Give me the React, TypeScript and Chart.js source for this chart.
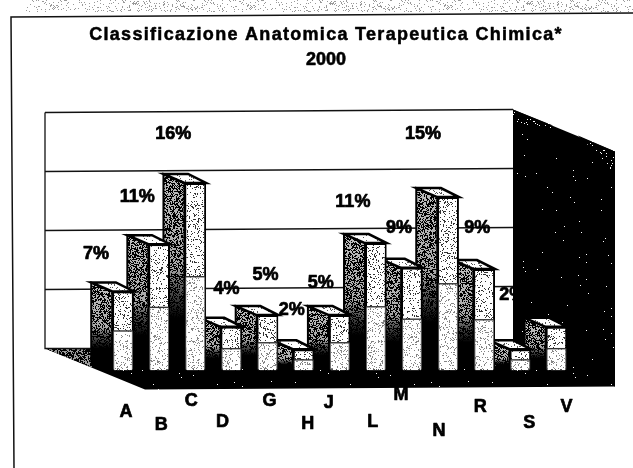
import React, { useEffect, useRef } from "react";
import { Chart, registerables } from "chart.js";

Chart.register(...registerables);

const categories = ["A", "B", "C", "D", "G", "H", "J", "L", "M", "N", "R", "S", "V"];
const shares = [6.7, 10.7, 15.9, 3.7, 4.7, 1.8, 4.7, 10.8, 8.7, 14.7, 8.6, 1.8, 3.7];
const shareLabels = ["7%", "11%", "16%", "4%", "5%", "2%", "5%", "11%", "9%", "15%", "9%", "2%", "4%"];
const titleLines = ["Classificazione Anatomica Terapeutica Chimica*", "2000"];
const gridValues = [0, 5, 10, 15, 20];

// label placement relative to the front-top centre of each bar
const labelShift = [[-27, -37], [-22, -47], [-22, -49], [-5, -38], [-2, -40], [-12, -39], [-19, -32], [-23, -41], [-13, -40], [-25, -63], [-7, -41], [-8, -54], [-8, -40]];
// category text placement relative to the bar centre and the base line
const catShift = [[3, 42], [2, 55], [-4, 31], [-9, 52], [2, 31], [4, 54], [-11, 33], [-3, 52], [-11, 25], [-9, 61], [-4, 37], [9, 53], [10, 37]];

function stipple(density: number, ink = "#000", paper = "#fff") {
  const c = document.createElement("canvas");
  c.width = c.height = 197;
  const g = c.getContext("2d")!;
  g.fillStyle = paper;
  g.fillRect(0, 0, 197, 197);
  g.fillStyle = ink;
  let s = 12345;
  for (let y = 0; y < 197; y++) {
    for (let x = 0; x < 197; x++) {
      s = (s * 1103515245 + 12345) & 0x7fffffff;
      if ((s >> 12) % 1000 < density * 10) g.fillRect(x, y, 1, 1);
    }
  }
  return g.createPattern(c, "repeat")!;
}

function poly(ctx: CanvasRenderingContext2D, pts: number[][]) {
  ctx.beginPath();
  pts.forEach((p, i) => (i ? ctx.lineTo(p[0], p[1]) : ctx.moveTo(p[0], p[1])));
  ctx.closePath();
}

function heavyText(ctx: CanvasRenderingContext2D, s: string, x: number, y: number, w: number) {
  ctx.lineWidth = w;
  ctx.lineJoin = "round";
  ctx.strokeStyle = "#000";
  ctx.strokeText(s, x, y);
  ctx.fillText(s, x, y);
}

const scene = {
  id: "scene",
  beforeDatasetsDraw(chart: any) {
    const { ctx, scales } = chart;
    const y = scales.y;
    const backDrop = -22;
    const wallL = 45, wallR = 513, deepX = 102, deepY = 40;
    const top = y.getPixelForValue(20) + backDrop;
    const floor = y.getPixelForValue(0) + backDrop;
    ctx.save();
    ctx.fillStyle = "#fff";
    ctx.fillRect(0, 0, 633, 468);

    // scan noise strip and page frame
    ctx.fillStyle = stipple(12, "#999");
    ctx.fillRect(26, 0, 607, 12);
    ctx.strokeStyle = "#111";
    ctx.lineWidth = 1.5;
    ctx.beginPath();
    ctx.moveTo(633, 13);
    ctx.lineTo(11, 17);
    ctx.lineTo(14, 468);
    ctx.stroke();

    // floor
    const blackPat = stipple(0.3, "#fff", "#000");
    poly(ctx, [[wallL, floor], [wallL + 100, floor + deepY + 1], [wallR + deepX, floor + deepY - 2], [wallR + deepX, floor], [wallR, floor - 4], [70, floor]]);
    ctx.fillStyle = blackPat;
    ctx.fill();
    poly(ctx, [[wallL, floor], [92, floor + 19], [92, floor + 1]]);
    ctx.fillStyle = stipple(60, "#000", "#999");
    ctx.fill();

    // back wall and grid
    ctx.strokeStyle = "#111";
    ctx.lineWidth = 1.3;
    ctx.beginPath();
    ctx.moveTo(wallL, top);
    ctx.lineTo(wallL, floor);
    ctx.lineTo(92, floor);
    ctx.stroke();
    gridValues.forEach((v) => {
      if (v === 0) return;
      const py = y.getPixelForValue(v) + backDrop;
      ctx.beginPath();
      ctx.moveTo(wallL, py);
      ctx.lineTo(wallR, py - 3);
      ctx.stroke();
    });

    // right wall
    poly(ctx, [[wallR, top - 3], [wallR + deepX, top + 39], [wallR + deepX, floor + deepY - 2], [wallR, floor]]);
    ctx.fillStyle = blackPat;
    ctx.fill();
    poly(ctx, [[wallR, top - 3], [wallR + 40, top + 13], [wallR + 20, top + 14], [wallR, top + 12]]);
    ctx.fillStyle = stipple(6, "#fff", "#000");
    ctx.fill();
    poly(ctx, [[wallR + 65, top + 23], [wallR + deepX, top + 39], [wallR + deepX, top + 62], [wallR + 85, top + 42]]);
    ctx.fill();

    // bar sides and caps, back to front
    const sidePat = stipple(50, "#000", "#bbb");
    const capPat = stipple(10, "#555");
    const bars = chart.getDatasetMeta(0).data;
    for (let i = bars.length - 1; i >= 0; i--) {
      const b = bars[i];
      const l = b.x - b.width / 2, r = b.x + b.width / 2, t = b.y, bot = b.base;
      poly(ctx, [[l - 21, t - 9], [l, t], [l, bot], [l - 21, bot - 9]]);
      ctx.fillStyle = sidePat;
      ctx.fill();
      const g = ctx.createLinearGradient(0, t, 0, bot);
      g.addColorStop(0, "rgba(0,0,0,0)");
      g.addColorStop(0.45, "rgba(0,0,0,0.1)");
      g.addColorStop(0.55, "rgba(0,0,0,0.5)");
      g.addColorStop(0.72, "rgba(0,0,0,1)");
      g.addColorStop(1, "rgba(0,0,0,1)");
      ctx.fillStyle = g;
      ctx.fill();
      ctx.strokeStyle = "#000";
      ctx.lineWidth = 2;
      ctx.stroke();
      poly(ctx, [[l - 21, t - 9], [r - 18, t - 9], [r, t], [l, t]]);
      ctx.fillStyle = capPat;
      ctx.fill();
      ctx.lineWidth = 2.5;
      ctx.stroke();
    }
    ctx.restore();
  },
  afterDatasetsDraw(chart: any) {
    const { ctx, scales } = chart;
    const bars = chart.getDatasetMeta(0).data;
    ctx.save();
    // lower half of each face is paler, with the shading band at the middle
    bars.forEach((b: any) => {
      const l = b.x - b.width / 2, w = b.width, mid = (b.y + b.base) / 2;
      ctx.fillStyle = "rgba(255,255,255,0.4)";
      ctx.fillRect(l + 1, mid, w - 2, b.base - mid - 1);
      ctx.fillStyle = "#333";
      ctx.fillRect(l + 1, mid - 0.7, w - 2, 1.4);
    });

    ctx.fillStyle = "#000";
    ctx.textAlign = "center";
    ctx.textBaseline = "middle";
    ctx.font = "bold 18px 'Liberation Sans'";
    bars.forEach((b: any, i: number) => {
      heavyText(ctx, shareLabels[i], b.x + labelShift[i][0], b.y + labelShift[i][1], 0.7);
    });
    categories.forEach((c, i) => {
      const px = scales.x.getPixelForValue(i);
      heavyText(ctx, c, px + catShift[i][0], scales.y.getPixelForValue(0) + catShift[i][1], 0.7);
    });

    ctx.font = "bold 18px 'Liberation Sans'";
    ctx.letterSpacing = "1.3px";
    heavyText(ctx, titleLines[0], 326, 35, 0.5);
    ctx.letterSpacing = "0px";
    heavyText(ctx, titleLines[1], 326, 60, 0.6);
    ctx.restore();
  },
};

export default function App() {
  const ref = useRef<HTMLCanvasElement>(null);
  useEffect(() => {
    const chart = new Chart(ref.current!, {
      type: "bar",
      data: {
        labels: categories,
        datasets: [
          {
            label: "2000",
            data: shares,
            backgroundColor: stipple(16, "#333"),
            borderColor: "#000",
            borderWidth: 2,
            barPercentage: 0.6,
            categoryPercentage: 1,
          },
        ],
      },
      options: {
        animation: false,
        responsive: false,
        layout: { padding: { left: 105, right: 58.5, top: 134.5, bottom: 97.5 } },
        plugins: { legend: { display: false }, tooltip: { enabled: false } },
        scales: {
          x: { display: false },
          y: { display: false, min: 0, max: 20 },
        },
      },
      plugins: [scene],
    });
    return () => chart.destroy();
  }, []);
  return (
    <div style={{ position: "absolute", left: 0, top: 0, width: 633, height: 468 }}>
      <canvas ref={ref} width={633} height={468} style={{ display: "block" }} />
    </div>
  );
}
